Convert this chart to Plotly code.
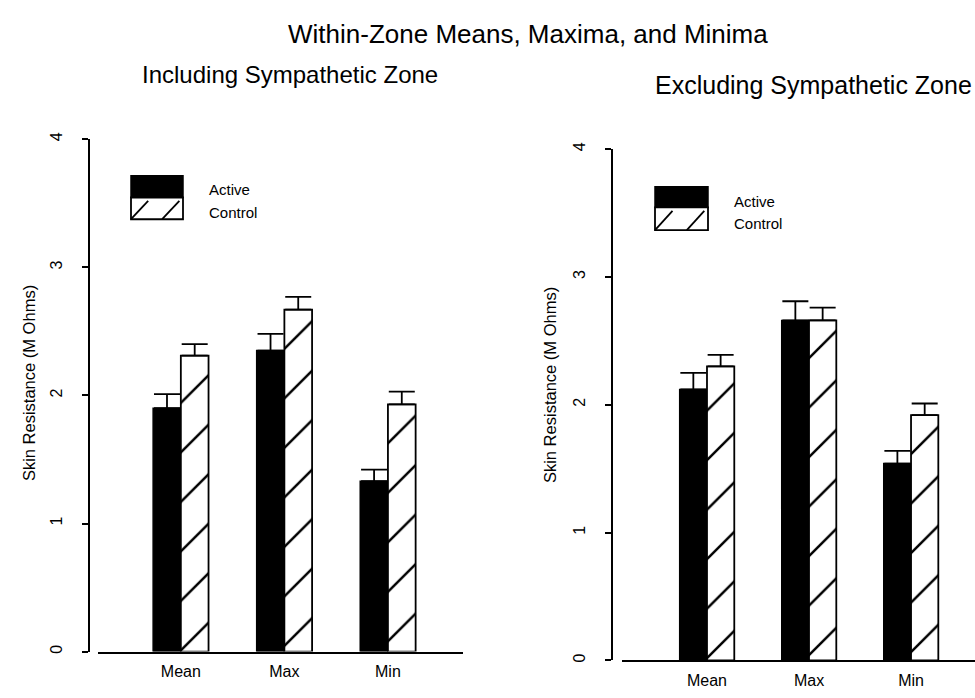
import plotly.graph_objects as go

# ---------------- data ----------------
categories = ["Mean", "Max", "Min"]
series_names = ["Active", "Control"]

incl_active = [1.90, 2.35, 1.33]
incl_active_err = [0.11, 0.13, 0.09]
incl_control = [2.31, 2.67, 1.93]
incl_control_err = [0.09, 0.10, 0.10]

excl_active = [2.12, 2.66, 1.54]
excl_active_err = [0.13, 0.15, 0.10]
excl_control = [2.30, 2.66, 1.92]
excl_control_err = [0.09, 0.10, 0.09]

y_ticks = [0, 1, 2, 3, 4]
main_title = "Within-Zone Means, Maxima, and Minima"
panel_titles = ["Including Sympathetic Zone", "Excluding Sympathetic Zone"]
y_title = "Skin Resistance (M Ohms)"

# ---------------- layout helpers ----------------
W, H = 975, 698
FONT = "Liberation Sans, Arial, Helvetica, sans-serif"


def px(x):
    return x / W


def py(y):
    return 1 - y / H


fig = go.Figure()


def add_panel(active, active_err, control, control_err, xa, ya):
    xs = list(range(len(categories)))
    fig.add_trace(go.Bar(
        x=xs, y=active, name=series_names[0], xaxis=xa, yaxis=ya,
        marker=dict(color="black", line=dict(color="black", width=1.5)),
        error_y=dict(type="data", symmetric=False, array=active_err,
                     arrayminus=[0] * len(active), width=13, thickness=1.8,
                     color="black"),
        showlegend=False,
    ))
    fig.add_trace(go.Bar(
        x=xs, y=control, name=series_names[1], xaxis=xa, yaxis=ya,
        marker=dict(color="white", line=dict(color="black", width=1.8),
                    pattern=dict(shape="/", fgcolor="black", bgcolor="white",
                                 fgopacity=1, fillmode="replace",
                                 size=35, solidity=0.07)),
        error_y=dict(type="data", symmetric=False, array=control_err,
                     arrayminus=[0] * len(control), width=13, thickness=1.8,
                     color="black"),
        showlegend=False,
    ))


add_panel(incl_active, incl_active_err, incl_control, incl_control_err, "x", "y")
add_panel(excl_active, excl_active_err, excl_control, excl_control_err, "x2", "y2")

common_x = dict(
    showline=True, linecolor="black", linewidth=1.8, ticks="",
    tickvals=[0, 1, 2], ticktext=categories, showgrid=False, zeroline=False,
    tickfont=dict(family=FONT, size=16, color="black"), ticklabelstandoff=4,
)
common_y = dict(
    showline=True, linecolor="black", linewidth=1.8, ticks="outside",
    ticklen=6, tickwidth=1.8, tickcolor="black", tickvals=y_ticks,
    range=[0, 4], showgrid=False, zeroline=False, tickangle=-90,
    tickfont=dict(family=FONT, size=16, color="black"), ticklabelstandoff=14,
    anchor="free",
)

fig.update_layout(
    width=W, height=H,
    margin=dict(l=0, r=0, t=0, b=0),
    paper_bgcolor="white", plot_bgcolor="white",
    barmode="group", bargap=0.465, bargroupgap=0,
    xaxis=dict(domain=[px(98), px(463)], range=[-0.8, 2.725], anchor="y", **common_x),
    yaxis=dict(domain=[py(653), py(134)], position=px(89), **common_y),
    xaxis2=dict(domain=[px(622), px(975)], range=[-0.833, 2.627], anchor="y2", **common_x),
    yaxis2=dict(domain=[py(662), py(144)], position=px(612), **common_y),
)

annotations = [
    dict(text=main_title, x=px(528), y=py(27), size=26),
    dict(text=panel_titles[0], x=px(290), y=py(68), size=24),
    dict(text=panel_titles[1], x=px(813), y=py(79), size=25),
]
for a in annotations:
    fig.add_annotation(text=a["text"], x=a["x"], y=a["y"], xref="paper", yref="paper",
                       xanchor="center", yanchor="middle", showarrow=False,
                       font=dict(family=FONT, size=a["size"], color="black"))

for xc, yc in [(29, 381), (550, 383)]:
    fig.add_annotation(text=y_title, x=px(xc), y=py(yc), xref="paper", yref="paper",
                       xanchor="center", yanchor="middle", textangle=-90, showarrow=False,
                       font=dict(family=FONT, size=16.5, color="black"))

# ---------------- legends (drawn as keys) ----------------
legend_boxes = [
    # (x0, x1, y_top, y_mid, y_bot, text_x, y_active, y_control)
    (131, 183, 171, 193, 215, 207, 185, 208),
    (655, 708, 182, 203, 226, 732, 197, 219),
]
for x0, x1, yt, ym, yb, tx, ya_, yc_ in legend_boxes:
    fig.add_shape(type="rect", xref="paper", yref="paper",
                  x0=px(x0), x1=px(x1), y0=py(ym), y1=py(yt),
                  fillcolor="black", line=dict(color="black", width=1.5))
    fig.add_shape(type="rect", xref="paper", yref="paper",
                  x0=px(x0), x1=px(x1), y0=py(yb), y1=py(ym),
                  fillcolor="white", line=dict(color="black", width=1.8))
    w = x1 - x0
    h = yb - ym
    for fx in (0.0, 0.6):
        fig.add_shape(type="line", xref="paper", yref="paper",
                      x0=px(x0 + fx * w), y0=py(yb),
                      x1=px(x0 + fx * w + 0.33 * w), y1=py(ym + 0.15 * h),
                      line=dict(color="black", width=1.8))
    for txt, yy in ((series_names[0], ya_), (series_names[1], yc_)):
        fig.add_annotation(text=txt, x=px(tx), y=py(yy), xref="paper", yref="paper",
                           xanchor="left", yanchor="middle", showarrow=False,
                           font=dict(family=FONT, size=15, color="black"))

fig.write_html(
    "out.html",
    config={"displayModeBar": False},
    post_script="document.body.style.margin='0px';document.body.style.overflow='hidden';",
)
